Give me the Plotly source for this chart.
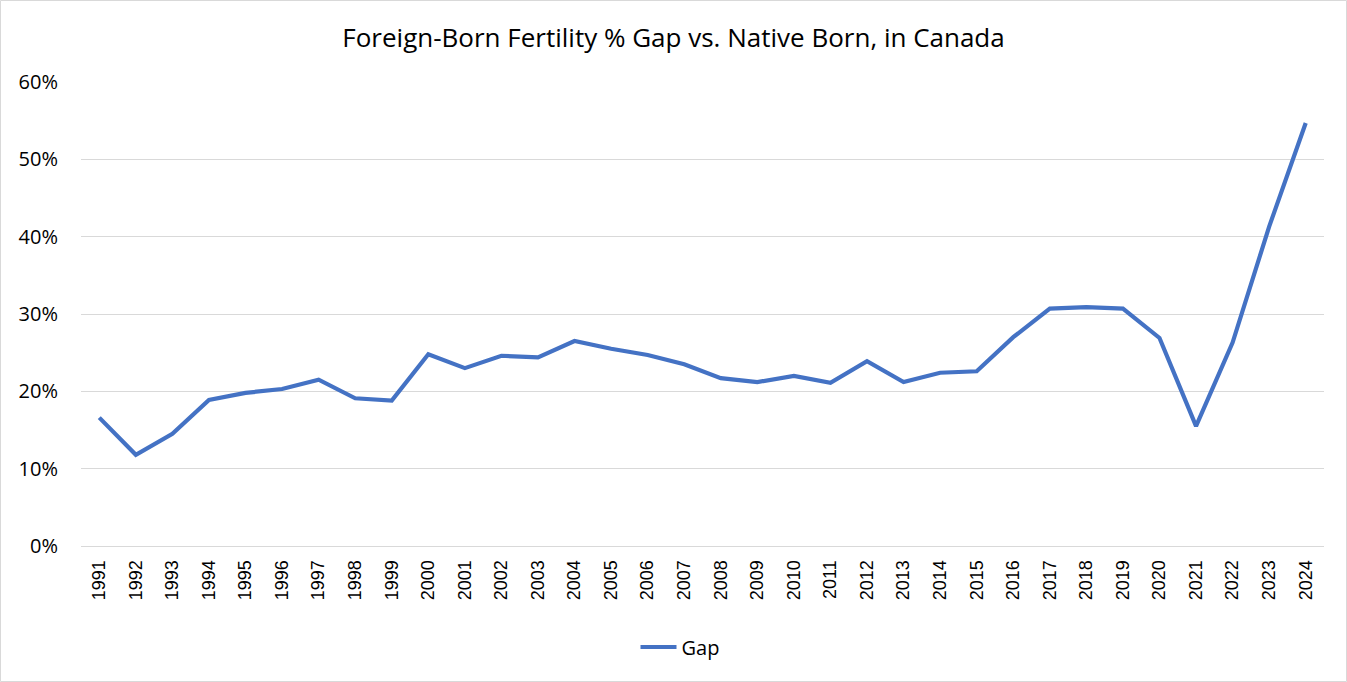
import plotly.graph_objects as go

years = [str(y) for y in range(1991, 2025)]
gap = [16.6, 11.8, 14.5, 18.9, 19.8, 20.3, 21.5, 19.1, 18.8, 24.8,
       23.0, 24.6, 24.4, 26.5, 25.5, 24.7, 23.5, 21.7, 21.2, 22.0,
       21.1, 23.9, 21.2, 22.4, 22.6, 27.0, 30.7, 30.9, 30.7, 26.9,
       15.5, 26.3, 41.3, 54.7]
gap_frac = [v / 100 for v in gap]
y_ticks = [0, 0.1, 0.2, 0.3, 0.4, 0.5, 0.6]

W, H = 1347, 682
ml, mr, mt, mb = 81, 23, 82, 136
pw, ph = W - ml - mr, H - mt - mb
calibri_like = "Open Sans, Noto Sans, sans-serif"

fig = go.Figure()
fig.add_trace(go.Scatter(
    x=years, y=gap_frac, mode="lines", name="Gap",
    line=dict(color="#4472C4", width=4.2),
))

fig.update_layout(
    width=W, height=H,
    margin=dict(l=ml, r=mr, t=mt, b=mb),
    paper_bgcolor="white", plot_bgcolor="white",
    font=dict(family="Liberation Sans, Arial, sans-serif", size=18, color="#000000"),
    title=dict(text="Foreign-Born Fertility % Gap vs. Native Born, in Canada",
               xref="paper", x=(W / 2 - ml) / pw, xanchor="center",
               y=1 - 38 / H, yanchor="middle",
               font=dict(family=calibri_like, size=26, color="#000000")),
    showlegend=True,
    legend=dict(orientation="h", x=(680 - ml) / pw, xanchor="center",
                y=-(647 - 546) / ph, yanchor="middle",
                font=dict(family=calibri_like, size=20), itemwidth=36),
    xaxis=dict(type="category", range=[-0.5, len(years) - 0.5],
               tickangle=-90, showgrid=False, showline=True,
               linecolor="#D9D9D9", linewidth=1, ticks="",
               tickfont=dict(size=18), ticklabelstandoff=6),
    yaxis=dict(range=[0, 0.6], tickvals=y_ticks, tickformat=".0%",
               showgrid=True, gridcolor="#D9D9D9", gridwidth=1.3,
               zeroline=False, showline=False, ticks="",
               tickfont=dict(family=calibri_like, size=20), ticklabelstandoff=22),
)

fig.add_shape(type="rect", xref="paper", yref="paper",
              x0=-(ml - 0.5) / pw, x1=1 + (mr - 0.5) / pw,
              y0=-(mb - 0.5) / ph, y1=1 + (mt - 0.5) / ph,
              line=dict(color="#D9D9D9", width=1), fillcolor="rgba(0,0,0,0)",
              layer="below")

fig.write_html("out.html", config={"displayModeBar": False},
               post_script="document.body.style.margin='0';")
